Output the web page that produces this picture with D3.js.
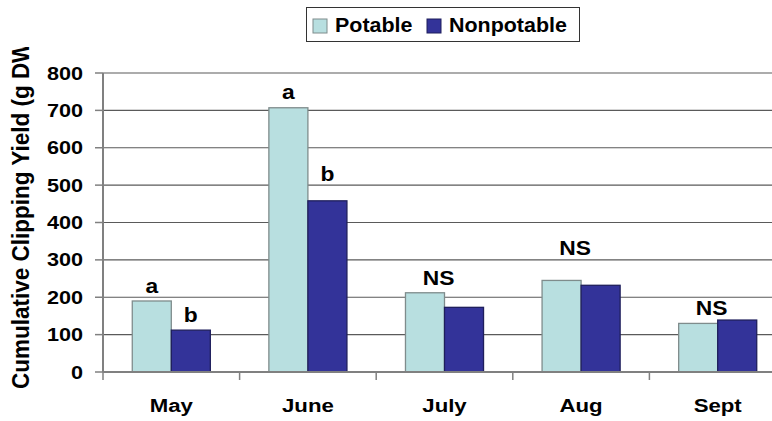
<!DOCTYPE html>
<html>
<head>
<meta charset="utf-8">
<script src="https://cdn.jsdelivr.net/npm/d3@7"></script>
<style>
  body { margin: 0; background: #fff; }
  svg { display: block; }
  text { font-family: "Liberation Sans", Arial, sans-serif; font-weight: bold; fill: #000; }
</style>
</head>
<body>
<svg id="mainChart" width="772" height="421"></svg>
<script>
const months = ["May", "June", "July", "Aug", "Sept"];
const seriesNames = ["Potable", "Nonpotable"];
const potable = [190, 707, 212, 245, 130];
const nonpotable = [112, 458, 173, 232, 139];
const yTicks = [0, 100, 200, 300, 400, 500, 600, 700, 800];

// significance letters: month, series (null = whole group), text, height in data units
const sigMonths = ["May", "May", "June", "June", "July", "Aug", "Sept"];
const sigSeries = ["Potable", "Nonpotable", "Potable", "Nonpotable", null, null, null];
const sigText = ["a", "b", "a", "b", "NS", "NS", "NS"];
const sigValue = [211, 135, 730, 512, 233, 313, 153];

const colors = { Potable: "#b8dfe0", Nonpotable: "#333399" };
const strokes = { Potable: "#7f8c8c", Nonpotable: "#1f1f5c" };

const attr = { left: 103, right: 786, top: 73, bottom: 372, sx: 1.17 };

const svg = d3.select("svg#mainChart");

const x0 = d3.scaleBand().domain(months).range([attr.left, attr.right]).padding(0);
const x1 = d3.scaleBand().domain(seriesNames).range([0, x0.bandwidth()])
  .paddingInner(0).paddingOuter(0.75);
const y = d3.scaleLinear().domain([0, 800]).range([attr.bottom, attr.top]);

// text helper with slight horizontal stretch like the source image
function stretchedText(g, tx, ty, str, size, anchor) {
  return g.append("text")
    .attr("transform", `translate(${tx},${ty}) scale(${attr.sx},1)`)
    .attr("text-anchor", anchor)
    .style("font-size", size + "px")
    .text(str);
}

// gridlines
svg.append("g")
  .selectAll("line")
  .data(yTicks.filter(d => d > 0))
  .enter()
  .append("line")
  .attr("x1", attr.left).attr("x2", attr.right)
  .attr("y1", d => y(d)).attr("y2", d => y(d))
  .attr("stroke", "#5a5a5a")
  .attr("stroke-width", 1.2);

// bars
const data = months.map((m, i) => ({ month: m, Potable: potable[i], Nonpotable: nonpotable[i] }));
const groups = svg.append("g").selectAll("g")
  .data(data)
  .enter()
  .append("g")
  .attr("transform", d => `translate(${x0(d.month)},0)`);

groups.selectAll("rect")
  .data(d => seriesNames.map(s => ({ key: s, value: d[s] })))
  .enter()
  .append("rect")
  .attr("x", d => x1(d.key))
  .attr("y", d => y(d.value))
  .attr("width", x1.bandwidth())
  .attr("height", d => y(0) - y(d.value))
  .attr("fill", d => colors[d.key])
  .attr("stroke", d => strokes[d.key])
  .attr("stroke-width", 1.3);

// axes
const axisG = svg.append("g");
axisG.append("line")
  .attr("x1", attr.left).attr("x2", attr.left)
  .attr("y1", attr.top).attr("y2", attr.bottom)
  .attr("stroke", "#808080").attr("stroke-width", 2);
axisG.append("line")
  .attr("x1", attr.left).attr("x2", attr.right)
  .attr("y1", attr.bottom).attr("y2", attr.bottom)
  .attr("stroke", "#808080").attr("stroke-width", 2);

axisG.selectAll(".ytick")
  .data(yTicks)
  .enter()
  .append("line")
  .attr("x1", attr.left - 8).attr("x2", attr.left)
  .attr("y1", d => y(d)).attr("y2", d => y(d))
  .attr("stroke", "#808080").attr("stroke-width", 1.5);

yTicks.forEach(t => stretchedText(axisG, attr.left - 20, y(t) + 6.5, t, 18.5, "end"));

axisG.selectAll(".xtick")
  .data(months)
  .enter()
  .append("line")
  .attr("x1", d => x0(d)).attr("x2", d => x0(d))
  .attr("y1", attr.bottom).attr("y2", attr.bottom + 8)
  .attr("stroke", "#808080").attr("stroke-width", 1.5);

months.forEach(m => stretchedText(axisG, x0(m) + x0.bandwidth() / 2, 412, m, 19, "middle"));

// significance labels
sigText.forEach((t, i) => {
  const m = sigMonths[i];
  const s = sigSeries[i];
  const cx = s ? x0(m) + x1(s) + x1.bandwidth() / 2 : x0(m) + x0.bandwidth() / 2 - 6;
  stretchedText(svg, cx, y(sigValue[i]), t, 19.5, "middle");
});

// y title (clipped at top as in the source)
svg.append("clipPath").attr("id", "titleClip")
  .append("rect").attr("x", 0).attr("y", 47).attr("width", 60).attr("height", 374);
svg.append("g").attr("clip-path", "url(#titleClip)")
  .append("text")
  .attr("transform", "translate(29,389) rotate(-90) scale(1,1.08)")
  .attr("text-anchor", "start")
  .style("font-size", "22.5px")
  .text("Cumulative Clipping Yield (g DW)");

// legend
const leg = svg.append("g");
leg.append("rect")
  .attr("x", 306.5).attr("y", 7.5).attr("width", 273).attr("height", 34)
  .attr("fill", "#fff").attr("stroke", "#333").attr("stroke-width", 1);
const legX = [313, 427];
seriesNames.forEach((s, i) => {
  leg.append("rect")
    .attr("x", legX[i]).attr("y", 19).attr("width", 14).attr("height", 14)
    .attr("fill", colors[s]).attr("stroke", strokes[s]).attr("stroke-width", 1);
  leg.append("text")
    .attr("transform", `translate(${legX[i] + 22},32) scale(1.1,1)`)
    .style("font-size", "19.5px")
    .text(s);
});
</script>
</body>
</html>
